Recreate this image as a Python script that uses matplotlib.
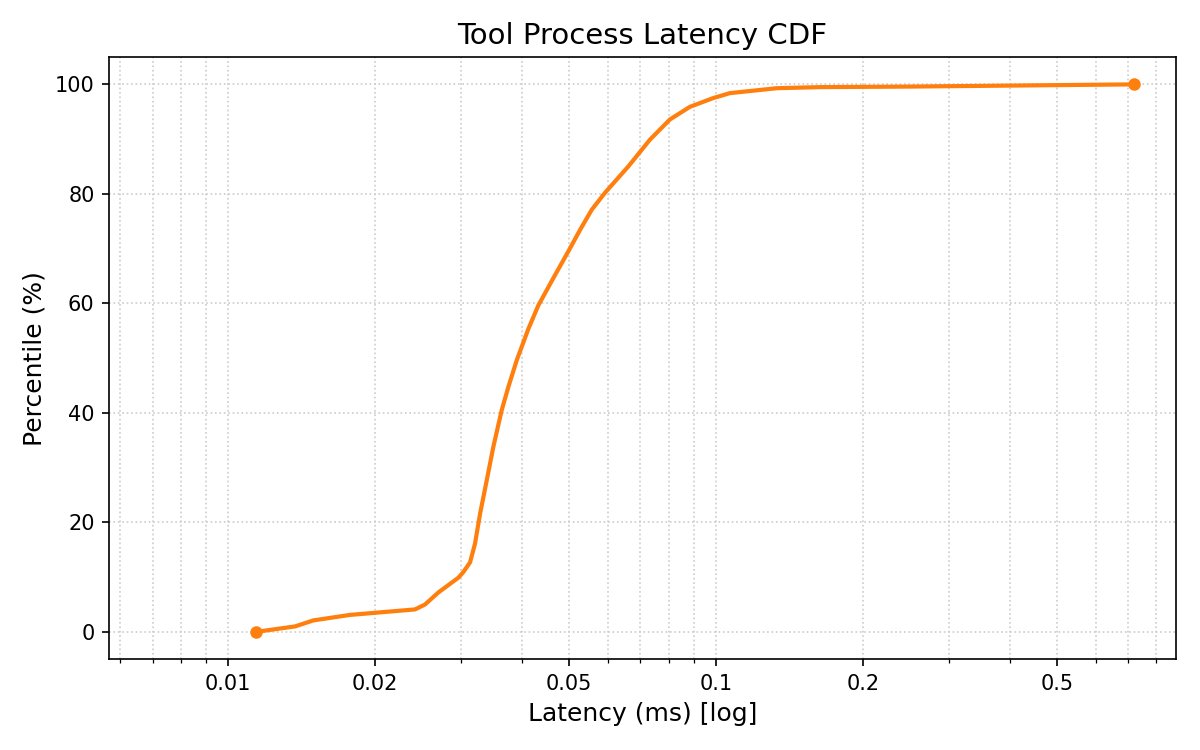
import numpy as np
import matplotlib
matplotlib.use("Agg")
import matplotlib.pyplot as plt
from matplotlib.ticker import FixedLocator, FixedFormatter, NullFormatter, LogLocator

# latency values (ms) and matching percentiles
latency_ms = [0.01141, 0.01372, 0.01496, 0.01778, 0.02416, 0.02533, 0.02698, 0.02965,
              0.03034, 0.03133, 0.03207, 0.03285, 0.03390, 0.03497, 0.03638, 0.03753,
              0.03905, 0.04124, 0.04323, 0.04641, 0.05004, 0.05264, 0.05564, 0.05923,
              0.06611, 0.07323, 0.08050, 0.08845, 0.09874, 0.1068, 0.1332, 0.1634,
              0.25, 0.719]
percentile = [0.0, 1.0, 2.1, 3.1, 4.1, 5.0, 7.2, 9.9,
              10.9, 12.7, 16.1, 21.6, 27.7, 33.8, 40.5, 44.7,
              49.6, 55.3, 59.6, 64.6, 69.8, 73.4, 77.1, 80.2,
              85.0, 89.9, 93.6, 95.9, 97.5, 98.4, 99.3, 99.5,
              99.6, 100.0]

tick_vals = [0.01, 0.02, 0.05, 0.1, 0.2, 0.5]
tick_text = ["0.01", "0.02", "0.05", "0.1", "0.2", "0.5"]

color = "#ff7f0e"

fig, ax = plt.subplots(figsize=(8, 5), dpi=150)
ax.plot(latency_ms, percentile, color=color, lw=2)
ax.plot([latency_ms[0], latency_ms[-1]], [percentile[0], percentile[-1]],
        "o", color=color, markersize=5)

ax.set_xscale("log")
ax.set_xlim(min(latency_ms) / 2, max(latency_ms) * 1.22)
ax.xaxis.set_major_locator(FixedLocator(tick_vals))
ax.xaxis.set_major_formatter(FixedFormatter(tick_text))
ax.xaxis.set_minor_locator(LogLocator(base=10, subs=np.arange(2, 10)))
ax.xaxis.set_minor_formatter(NullFormatter())
ax.set_yticks([0, 20, 40, 60, 80, 100])

ax.grid(True, which="both", linestyle=":", color="#cccccc", lw=0.8)
ax.set_axisbelow(True)

ax.set_title("Tool Process Latency CDF", fontsize=14)
ax.set_xlabel("Latency (ms) [log]", fontsize=12)
ax.set_ylabel("Percentile (%)", fontsize=12)
ax.tick_params(labelsize=10)

fig.subplots_adjust(left=0.091, right=0.98, top=0.924, bottom=0.121)
fig.savefig("out.png")
